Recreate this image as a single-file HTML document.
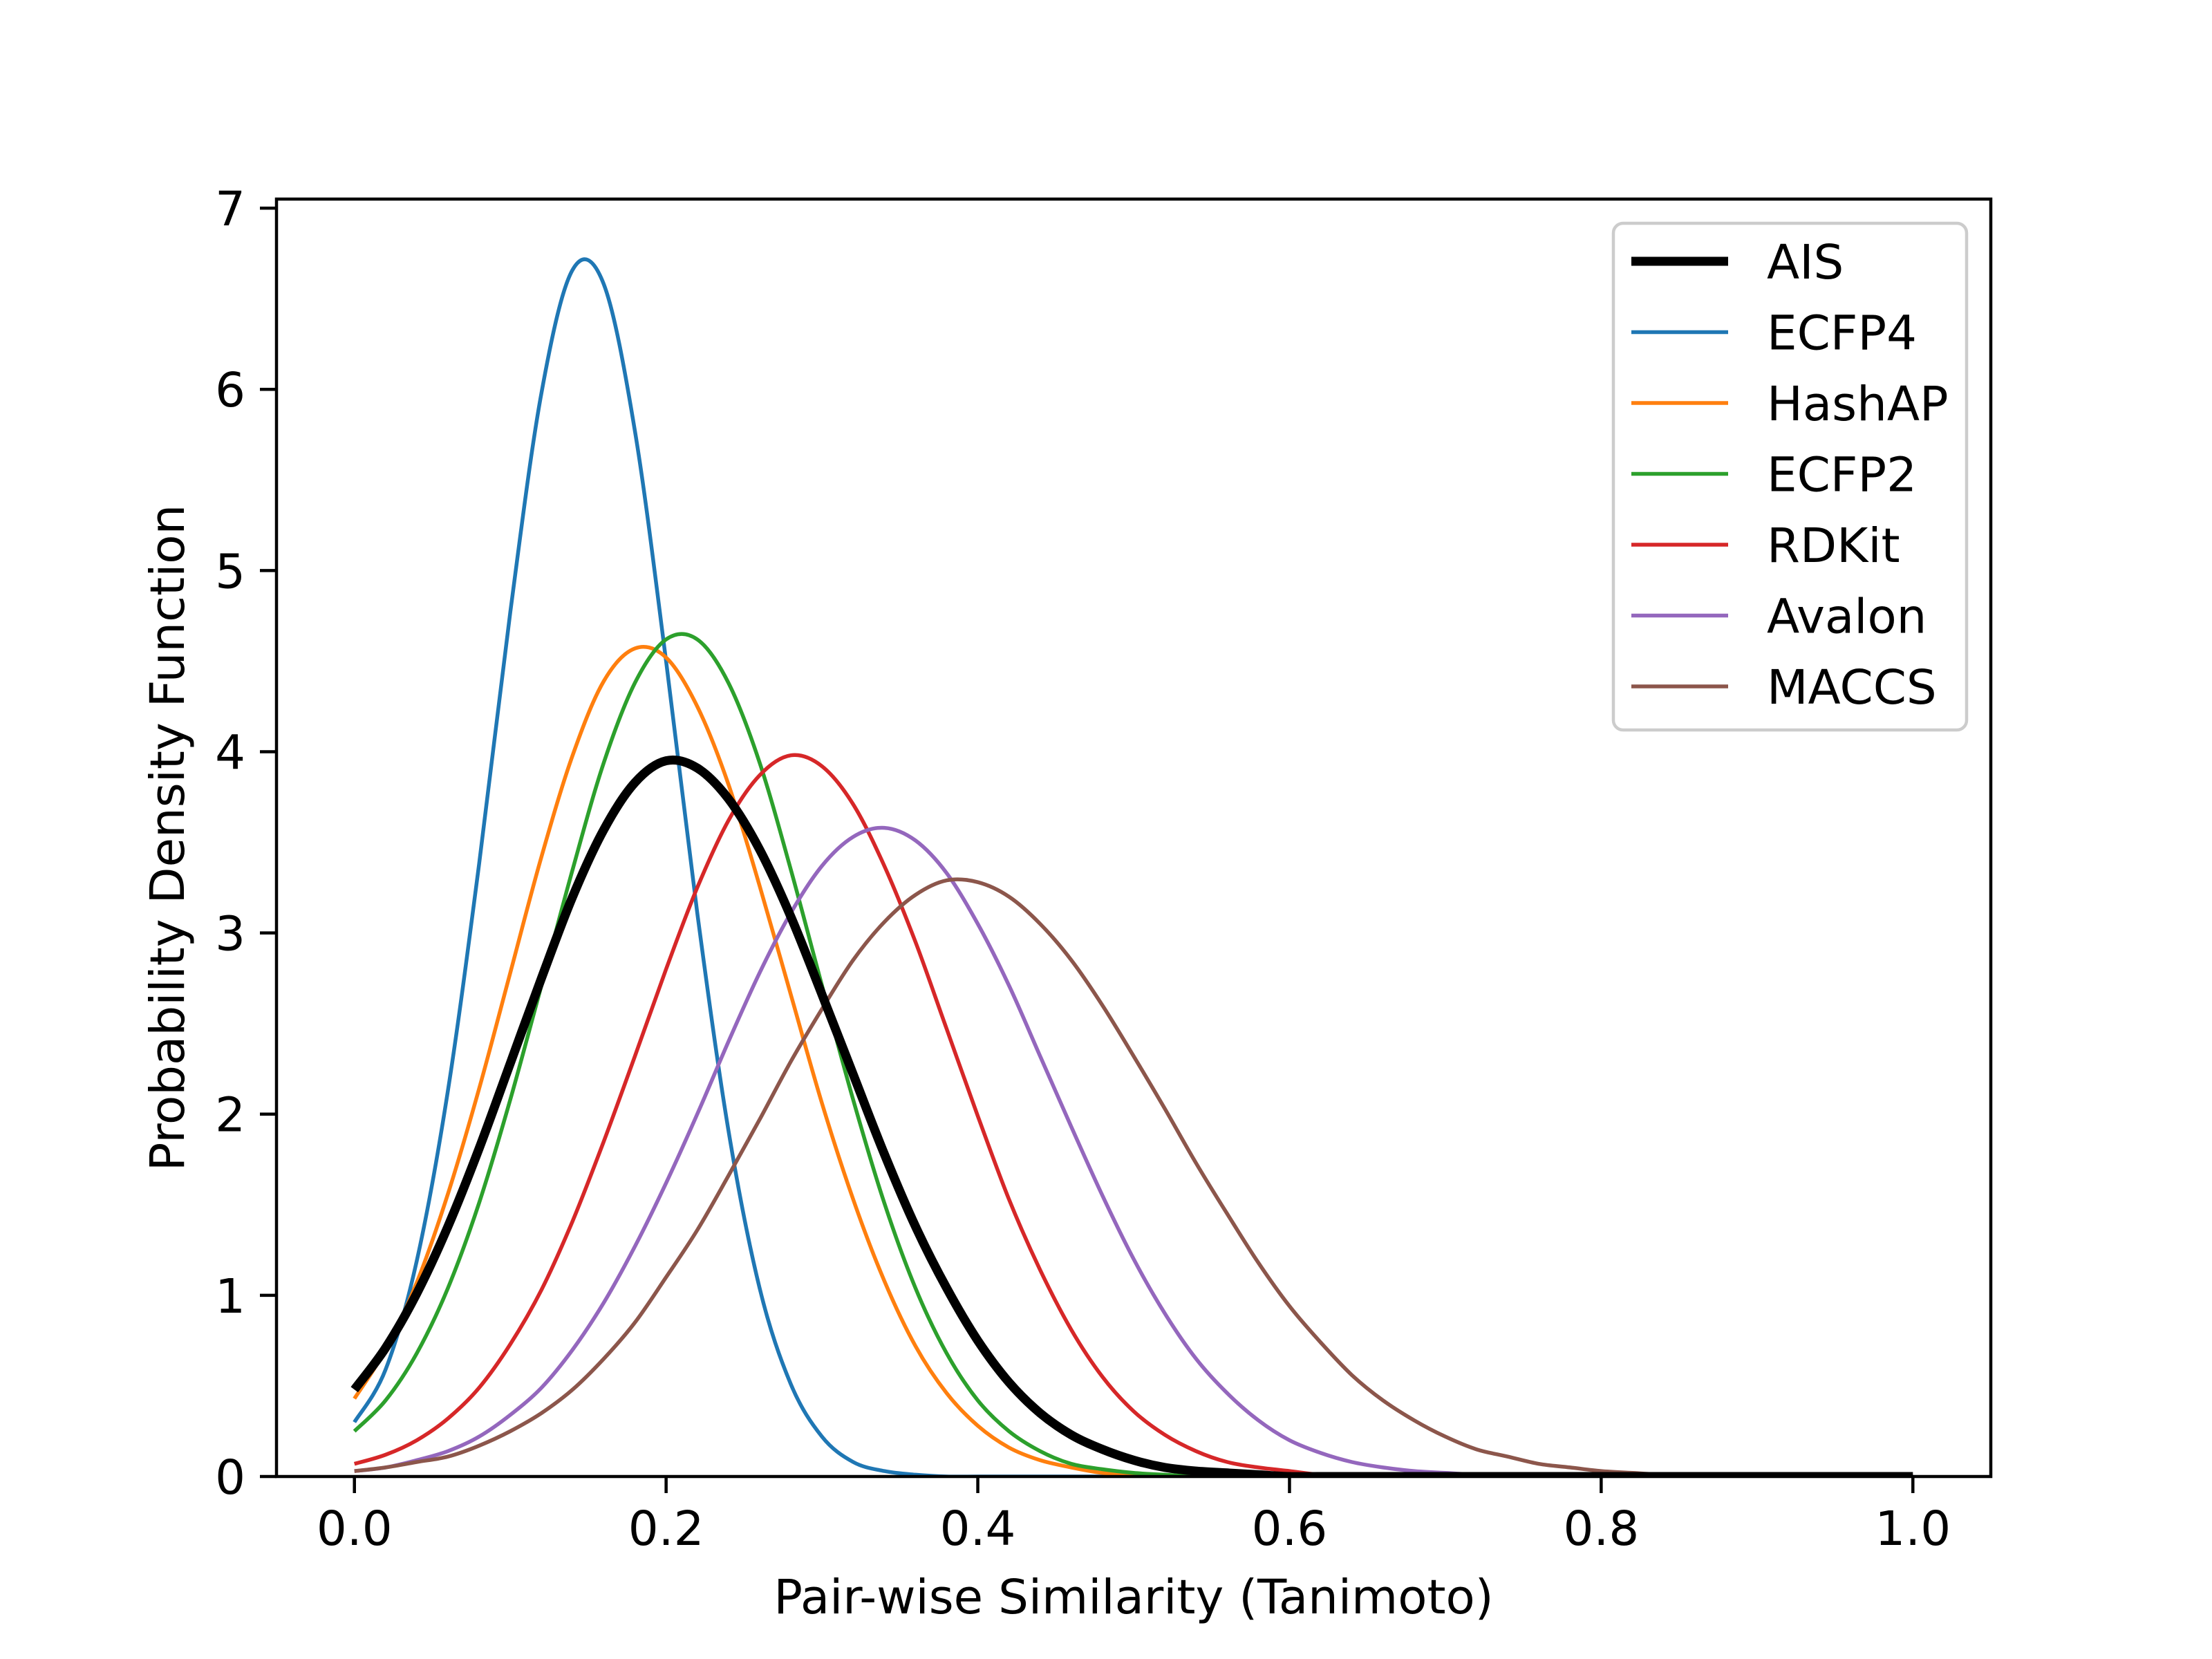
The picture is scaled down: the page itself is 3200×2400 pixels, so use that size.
<!DOCTYPE html>
<html><head><meta charset="utf-8"><style>
html,body{margin:0;padding:0;background:#fff;}
svg{display:block;}
text{font-family:"DejaVu Sans","Liberation Sans",sans-serif;fill:#000;}
</style></head><body>
<svg id="chart" width="3200" height="2400" viewBox="0 0 3200 2400" xmlns="http://www.w3.org/2000/svg">
<rect width="3200" height="2400" fill="#fff"/>
<g id="plot"></g>
</svg>
<script>
const xs = [0,0.02,0.04,0.06,0.08,0.10,0.12,0.14,0.16,0.18,0.20,0.22,0.24,0.26,0.28,0.30,0.32,0.34,0.36,0.38,0.40,0.42,0.44,0.46,0.48,0.50,0.52,0.54,0.56,0.58,0.60,0.62,0.64,0.66,0.68,0.70,0.72,0.74,0.76,0.78,0.80,0.82,0.84,0.86,0.88,0.90,0.92,0.94,0.96,0.98,1.00];
const aisVals = [0.48,0.71,1.01,1.38,1.81,2.28,2.75,3.20,3.57,3.83,3.95,3.91,3.74,3.46,3.09,2.66,2.22,1.78,1.38,1.04,0.75,0.52,0.35,0.23,0.15,0.09,0.05,0.03,0.02,0.01,0,0,0,0,0,0,0,0,0,0,0,0,0,0,0,0,0,0,0,0,0];
const ecfp4Vals = [0.30,0.59,1.19,2.13,3.38,4.77,5.98,6.66,6.58,5.77,4.50,3.11,1.91,1.04,0.51,0.22,0.08,0.03,0.01,0,0,0,0,0,0,0,0,0,0,0,0,0,0,0,0,0,0,0,0,0,0,0,0,0,0,0,0,0,0,0,0];
const hashapVals = [0.43,0.70,1.07,1.56,2.14,2.78,3.42,3.98,4.39,4.57,4.52,4.25,3.82,3.26,2.66,2.06,1.53,1.08,0.72,0.46,0.28,0.16,0.09,0.05,0.02,0.01,0,0,0,0,0,0,0,0,0,0,0,0,0,0,0,0,0,0,0,0,0,0,0,0,0];
const ecfp2Vals = [0.25,0.42,0.68,1.04,1.51,2.08,2.71,3.35,3.94,4.38,4.62,4.62,4.38,3.94,3.35,2.71,2.08,1.51,1.04,0.68,0.42,0.25,0.14,0.07,0.04,0.02,0.01,0,0,0,0,0,0,0,0,0,0,0,0,0,0,0,0,0,0,0,0,0,0,0,0];
const rdkitVals = [0.07,0.12,0.20,0.32,0.49,0.73,1.03,1.41,1.85,2.32,2.80,3.25,3.62,3.87,3.98,3.92,3.71,3.37,2.95,2.47,1.99,1.53,1.14,0.81,0.55,0.36,0.23,0.14,0.08,0.05,0.03,0.01,0.01,0,0,0,0,0,0,0,0,0,0,0,0,0,0,0,0,0,0];
const avalonVals = [0.03,0.05,0.09,0.14,0.22,0.34,0.49,0.70,0.96,1.27,1.62,2.00,2.40,2.78,3.11,3.37,3.53,3.58,3.51,3.33,3.05,2.71,2.32,1.93,1.55,1.20,0.90,0.65,0.46,0.31,0.20,0.13,0.08,0.05,0.03,0.02,0.01,0.01,0,0,0,0,0,0,0,0,0,0,0,0,0];
const maccsVals = [0.03,0.05,0.08,0.11,0.17,0.25,0.35,0.48,0.65,0.85,1.10,1.36,1.66,1.97,2.29,2.58,2.85,3.06,3.21,3.29,3.28,3.20,3.05,2.85,2.60,2.32,2.03,1.73,1.45,1.18,0.94,0.74,0.56,0.42,0.31,0.22,0.15,0.11,0.07,0.05,0.03,0.02,0.01,0.01,0,0,0,0,0,0,0];
const seriesNames = ["AIS","ECFP4","HashAP","ECFP2","RDKit","Avalon","MACCS"];
const xTicks = [0,0.2,0.4,0.6,0.8,1.0];
const xTickLabels = ["0.0","0.2","0.4","0.6","0.8","1.0"];
const yTicks = [0,1,2,3,4,5,6,7];
const yTickLabels = ["0","1","2","3","4","5","6","7"];

const seriesData = [aisVals,ecfp4Vals,hashapVals,ecfp2Vals,rdkitVals,avalonVals,maccsVals];
const colors = ["#000000","#1f77b4","#ff7f0e","#2ca02c","#d62728","#9467bd","#8c564b"];
const widths = [13,5.5,5.5,5.5,5.5,5.5,5.5];
const L=400,R=2880,T=288,B=2136;
const xMin=-0.05,xMax=1.05,yMin=0,yMax=7.05;
function sx(v){return L+(v-xMin)/(xMax-xMin)*(R-L);}
function sy(v){return B-(v-yMin)/(yMax-yMin)*(B-T);}
const NS="http://www.w3.org/2000/svg";
const plot=document.getElementById('plot');
function mk(tag,attrs,parent){const e=document.createElementNS(NS,tag);for(const k in attrs)e.setAttribute(k,attrs[k]);(parent||plot).appendChild(e);return e;}

const defs=mk('defs',{});
const cp=mk('clipPath',{id:'clip'},defs);
mk('rect',{x:L,y:T,width:R-L,height:B-T},cp);
const lines=mk('g',{'clip-path':'url(#clip)'});



function smoothPath(pts){
  let d='M'+pts[0][0].toFixed(1)+','+pts[0][1].toFixed(1);
  for(let i=0;i<pts.length-1;i++){
    const p0=pts[Math.max(i-1,0)],p1=pts[i],p2=pts[i+1],p3=pts[Math.min(i+2,pts.length-1)];
    const c1x=p1[0]+(p2[0]-p0[0])/6,c1y=p1[1]+(p2[1]-p0[1])/6;
    const c2x=p2[0]-(p3[0]-p1[0])/6,c2y=p2[1]-(p3[1]-p1[1])/6;
    d+='C'+c1x.toFixed(1)+','+c1y.toFixed(1)+' '+c2x.toFixed(1)+','+c2y.toFixed(1)+' '+p2[0].toFixed(1)+','+p2[1].toFixed(1);
  }
  return d;
}
const order=[1,2,3,4,5,6,0];
order.forEach(si=>{
  const pts=xs.map((x,i)=>[sx(x),sy(seriesData[si][i])]);
  const p=mk('path',{d:smoothPath(pts),fill:'none',stroke:colors[si],'stroke-width':widths[si],'stroke-linejoin':'round','stroke-linecap':'butt'},lines);
  
  
});

const frame=mk('rect',{x:L,y:T,width:R-L,height:B-T,fill:'none',stroke:'#000','stroke-width':4.5});



const xg=mk('g',{});


xTicks.forEach((v,i)=>{
  const X=sx(v);
  const t=mk('line',{x1:X,x2:X,y1:B,y2:B+24,stroke:'#000','stroke-width':4.5},xg);
  
  
  const tx=mk('text',{x:X,y:B+99,'font-size':69,'text-anchor':'middle'},xg);
  tx.textContent=xTickLabels[i];
  
  
});
const yg=mk('g',{});


yTicks.forEach((v,i)=>{
  const Y=sy(v);
  const t=mk('line',{x1:L-24,x2:L,y1:Y,y2:Y,stroke:'#000','stroke-width':4.5},yg);
  
  
  const tx=mk('text',{x:L-45,y:Y+25,'font-size':69,'text-anchor':'end'},yg);
  tx.textContent=yTickLabels[i];
  
  
});
const xt=mk('text',{x:(L+R)/2,y:2334,'font-size':69,'text-anchor':'middle'});
xt.textContent='Pair-wise Similarity (Tanimoto)';


const yt=mk('text',{x:0,y:0,'font-size':69,'text-anchor':'middle',transform:'translate(266,'+((T+B)/2)+') rotate(-90)'});
yt.textContent='Probability Density Function';



const lg=mk('g',{});


const lb=mk('rect',{x:2334,y:323,width:511,height:733,rx:14,fill:'#fff','fill-opacity':0.8,stroke:'#cccccc','stroke-width':4.5},lg);


seriesNames.forEach((n,i)=>{
  const Y=378+i*102.5;
  const e=mk('g',{},lg);
  
  
  mk('line',{x1:2360,x2:2500,y1:Y,y2:Y,stroke:colors[i],'stroke-width':widths[i]},e);
  const t=mk('text',{x:2556,y:Y+25,'font-size':69},e);
  t.textContent=n;
});
</script>
</body></html>
